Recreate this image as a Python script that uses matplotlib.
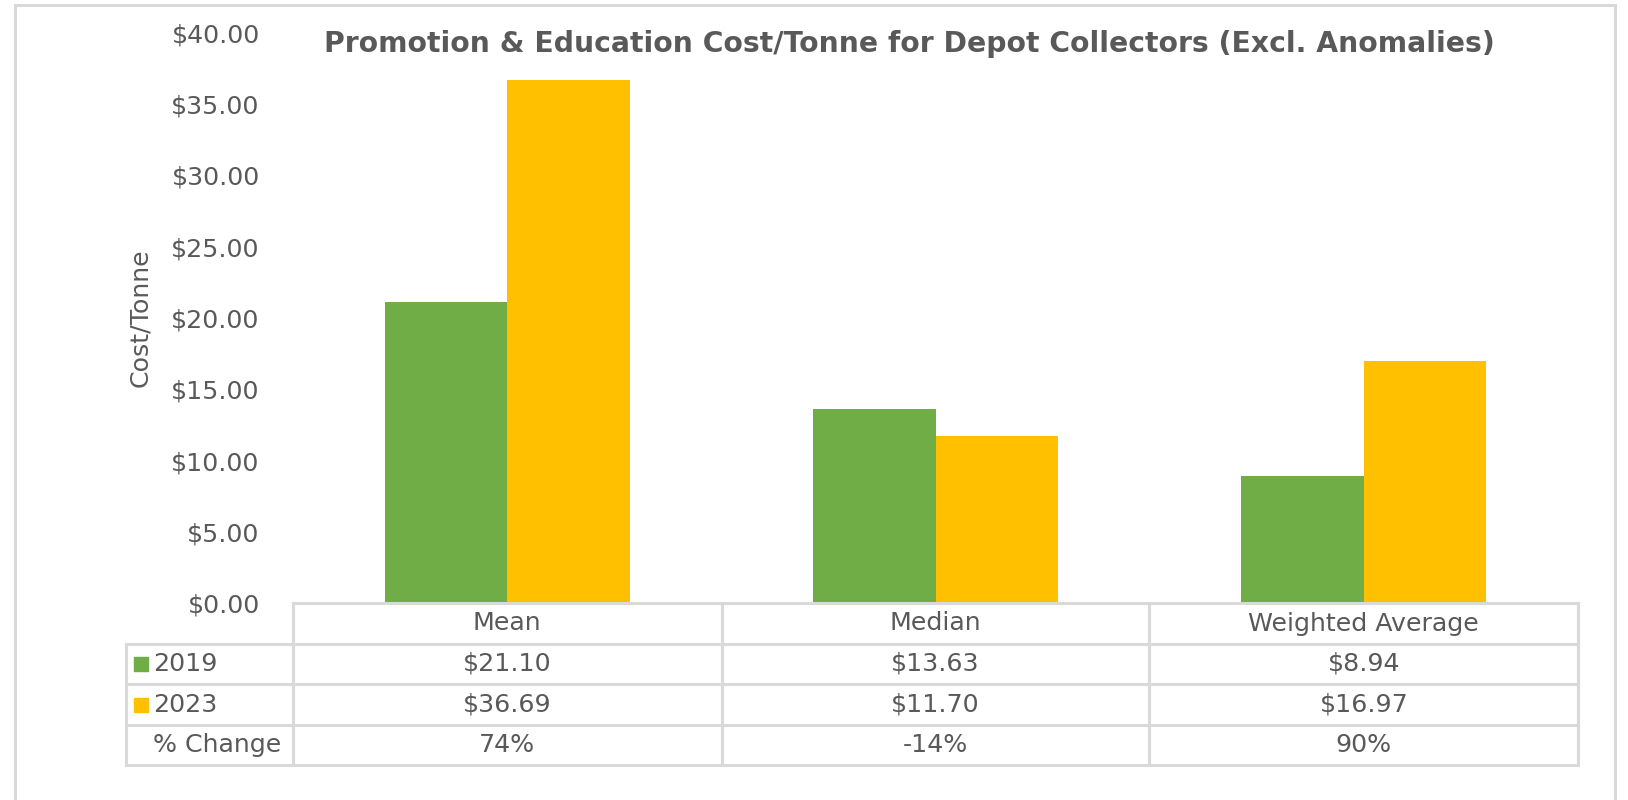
import matplotlib.pyplot as plt
import matplotlib.transforms as mtransforms
from matplotlib.lines import Line2D
from matplotlib.patches import Rectangle

categories = ["Mean", "Median", "Weighted Average"]
years = ["2019", "2023"]
values_2019 = [21.10, 13.63, 8.94]
values_2023 = [36.69, 11.70, 16.97]
pct_change = [74, -14, 90]
y_ticks = [0, 5, 10, 15, 20, 25, 30, 35, 40]

GREEN = "#70AD47"
GOLD = "#FFC000"
TEXT = "#595959"
LINE = "#D9D9D9"
W, H = 1628, 800
FS = 18.2


def fx(px):
    return px / W


def fy(py):
    return 1 - py / H


plt.rcParams["font.family"] = ["DejaVu Sans"]
fig = plt.figure(figsize=(W / 100, H / 100), dpi=100)

# outer chart border (bottom edge runs off the picture)
fig.add_artist(Rectangle((fx(15), fy(830)), fx(1615) - fx(15), fy(5) - fy(830),
                         transform=fig.transFigure, fill=False, edgecolor=LINE,
                         linewidth=2.2, clip_on=False))

ax = fig.add_axes([fx(293), fy(603), fx(1578) - fx(293), fy(33) - fy(603)])
WIDTH = 0.286
xs = range(len(categories))
ax.bar([x - WIDTH / 2 for x in xs], values_2019, width=WIDTH, color=GREEN, label=years[0])
ax.bar([x + WIDTH / 2 for x in xs], values_2023, width=WIDTH, color=GOLD, label=years[1])
ax.set_xlim(-0.5, len(categories) - 0.5)
ax.set_ylim(0, 40)
ax.set_yticks(y_ticks)
ax.set_yticklabels([f"${v:.2f}" for v in y_ticks], fontsize=FS, color=TEXT)
ax.tick_params(axis="y", length=0, pad=24)
ax.set_xticks([])
for s in ax.spines.values():
    s.set_visible(False)
ax.set_ylabel("Cost/Tonne", fontsize=FS, color=TEXT, labelpad=14)

fig.text(fx(909), fy(44), "Promotion & Education Cost/Tonne for Depot Collectors (Excl. Anomalies)",
         ha="center", va="center", fontsize=20.3, fontweight="bold", color=TEXT)

# data table under the axis
row_edges = [603, 644, 684, 725, 765]
col_edges = [126, 293, 722, 1149, 1578]
lw = 2.2
for i, yy in enumerate(row_edges):
    x0 = col_edges[1] if i == 0 else col_edges[0]
    fig.add_artist(Line2D([fx(x0), fx(col_edges[-1])], [fy(yy), fy(yy)], color=LINE, lw=lw))
for j, xx in enumerate(col_edges):
    y0 = row_edges[1] if j == 0 else row_edges[0]
    fig.add_artist(Line2D([fx(xx), fx(xx)], [fy(y0), fy(row_edges[-1])], color=LINE, lw=lw))

trans = mtransforms.blended_transform_factory(ax.transData, fig.transFigure)
row_mid = [(row_edges[k] + row_edges[k + 1]) / 2 for k in range(4)]
rows = [
    categories,
    [f"${v:.2f}" for v in values_2019],
    [f"${v:.2f}" for v in values_2023],
    [f"{v}%" for v in pct_change],
]
for r, labels in enumerate(rows):
    for c, lab in enumerate(labels):
        ax.text(c, fy(row_mid[r]), lab, transform=trans, ha="center", va="center",
                fontsize=FS, color=TEXT, clip_on=False)

row_labels = [years[0], years[1], "% Change"]
key_colors = [GREEN, GOLD, None]
for k, (lab, colr) in enumerate(zip(row_labels, key_colors)):
    ym = row_mid[k + 1]
    if colr:
        fig.add_artist(Rectangle((fx(134), fy(ym + 7)), fx(148) - fx(134), fy(ym - 7) - fy(ym + 7),
                                 transform=fig.transFigure, color=colr))
    fig.text(fx(153), fy(ym), lab, ha="left", va="center", fontsize=FS, color=TEXT)

fig.savefig("out.png", dpi=100, facecolor="white")
